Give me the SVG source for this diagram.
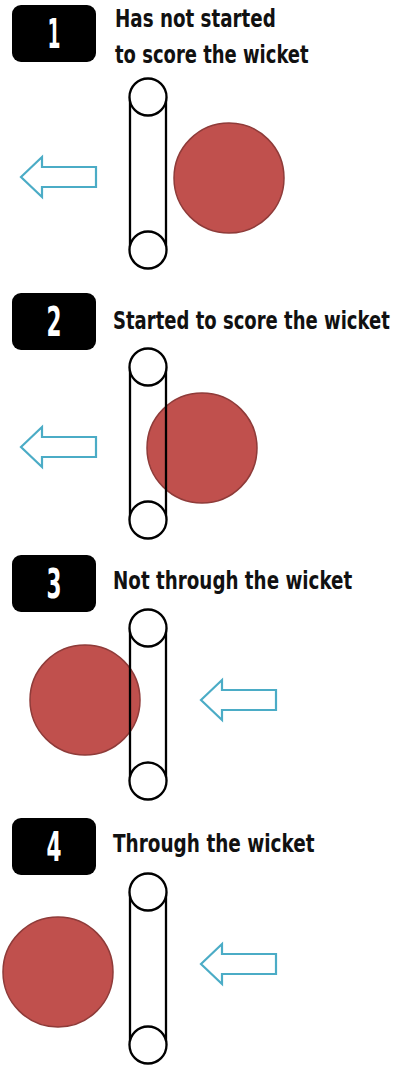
<svg xmlns="http://www.w3.org/2000/svg" width="399" height="1065" viewBox="0 0 399 1065">
  <style>
    .badge { fill: #000; }
    .num { fill: #fff; font-family: "DejaVu Sans Condensed", "DejaVu Sans", sans-serif; font-weight: bold; font-size: 40px; text-anchor: middle; }
    .label { fill: #111; font-family: "DejaVu Sans Condensed", "Liberation Sans", sans-serif; font-weight: bold; font-size: 25px; }
    .ball { fill: #c0504d; stroke: #8f3b39; stroke-width: 1.5; }
    .post { fill: none; stroke: #000; stroke-width: 2.3; }
    .ring { fill: #fff; stroke: #000; stroke-width: 2.3; }
    .arrow { fill: #fff; stroke: #4bacc6; stroke-width: 2.2; stroke-linejoin: miter; }
  </style>
  <defs>
    <!-- wicket: two rings joined by two uprights, origin at top ring centre -->
    <g id="wicket">
      <line class="post" x1="-18" y1="0" x2="-18" y2="153"/>
      <line class="post" x1="18" y1="0" x2="18" y2="153"/>
      <circle class="ring" cx="0" cy="0" r="18.5"/>
      <circle class="ring" cx="0" cy="153" r="18.5"/>
    </g>
    <!-- hollow left-pointing arrow, origin at tip -->
    <path id="arrowL" class="arrow" d="M0,0 L21,-20 L21,-10 L75,-10 L75,10 L21,10 L21,20 Z"/>
  </defs>

  <g id="step1">
    <rect class="badge" x="12" y="5" width="84" height="57" rx="9"/>
    <text class="num" x="54" y="48" textLength="13" lengthAdjust="spacingAndGlyphs">1</text>
    <text class="label" transform="translate(115,27) scale(0.8,1)" textLength="201" lengthAdjust="spacingAndGlyphs">Has not started</text>
    <text class="label" transform="translate(115,63) scale(0.8,1)" textLength="242" lengthAdjust="spacingAndGlyphs">to score the wicket</text>
    <use href="#arrowL" x="21" y="177"/>
    <circle class="ball" cx="229" cy="178" r="55"/>
    <use href="#wicket" x="148" y="97"/>
  </g>

  <g id="step2">
    <rect class="badge" x="12" y="293" width="84" height="57" rx="9"/>
    <text class="num" x="54" y="336" textLength="15" lengthAdjust="spacingAndGlyphs">2</text>
    <text class="label" transform="translate(113,329) scale(0.8,1)" textLength="346" lengthAdjust="spacingAndGlyphs">Started to score the wicket</text>
    <use href="#arrowL" x="21" y="447"/>
    <circle class="ball" cx="202" cy="448" r="55"/>
    <use href="#wicket" x="148" y="367"/>
  </g>

  <g id="step3">
    <rect class="badge" x="12" y="555" width="84" height="57" rx="9"/>
    <text class="num" x="54" y="598" textLength="15" lengthAdjust="spacingAndGlyphs">3</text>
    <text class="label" transform="translate(113,589) scale(0.8,1)" textLength="299" lengthAdjust="spacingAndGlyphs">Not through the wicket</text>
    <circle class="ball" cx="85" cy="700" r="55"/>
    <use href="#wicket" x="148" y="628"/>
    <use href="#arrowL" x="201" y="700"/>
  </g>

  <g id="step4">
    <rect class="badge" x="12" y="818" width="84" height="57" rx="9"/>
    <text class="num" x="54" y="861" textLength="15" lengthAdjust="spacingAndGlyphs">4</text>
    <text class="label" transform="translate(113,852) scale(0.8,1)" textLength="252" lengthAdjust="spacingAndGlyphs">Through the wicket</text>
    <circle class="ball" cx="58" cy="972" r="55"/>
    <use href="#wicket" x="148" y="892"/>
    <use href="#arrowL" x="201" y="964"/>
  </g>

  <g id="connectors"/>
</svg>
